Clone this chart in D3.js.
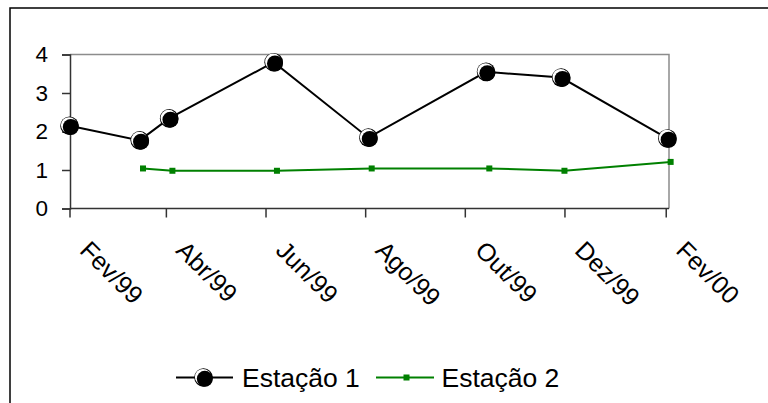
<!DOCTYPE html>
<html><head><meta charset="utf-8">
<script src="https://cdn.jsdelivr.net/npm/d3@7"></script>
<style>
html,body{margin:0;padding:0;background:#fff;}
svg{display:block;font-family:"Liberation Sans",Arial,sans-serif;}
</style></head>
<body>
<svg id="c" width="768" height="403"></svg>
<script>
// ---- data ----
const seriesNames = ["Estação 1", "Estação 2"];
const datesE1 = ["1999-02-01","1999-03-16","1999-04-03","1999-06-06","1999-08-03","1999-10-14","1999-11-29","2000-02-02"];
const valuesE1 = [2.15, 1.77, 2.34, 3.80, 1.84, 3.55, 3.40, 1.82];
const datesE2 = ["1999-03-18","1999-04-05","1999-06-08","1999-08-05","1999-10-16","1999-12-01","2000-02-04"];
const valuesE2 = [1.04, 0.98, 0.98, 1.04, 1.04, 0.98, 1.21];
const tickDates = ["1999-02-01","1999-04-01","1999-06-01","1999-08-01","1999-10-01","1999-12-01","2000-02-01"];
const tickLabels = ["Fev/99","Abr/99","Jun/99","Ago/99","Out/99","Dez/99","Fev/00"];
const yTicks = [0,1,2,3,4];

const parse = d3.utcParse("%Y-%m-%d");
const svg = d3.select("#c");

// outer chart frame (only top/left visible)
svg.append("rect").attr("x",10).attr("y",8).attr("width",800).attr("height",420)
  .attr("fill","#fff").attr("stroke","#000").attr("stroke-width",1.5);

const L=70, R=669, T=54.5, B=208.5;
const x = d3.scaleUtc().domain([parse("1999-02-01"), parse("2000-02-03")]).range([L-0.5, R]);
const y = d3.scaleLinear().domain([0,4]).range([B,T]);

// plot area border top/right in gray
svg.append("path").attr("d",`M${L},${T}H${R}V${B}`).attr("fill","none")
  .attr("stroke","#8c8c8c").attr("stroke-width",1.5);

// y axis
const yAxis = svg.append("g").attr("transform",`translate(${L},0)`)
  .call(d3.axisLeft(y).tickValues(yTicks).tickSize(8).tickPadding(14).tickFormat(d3.format("d")));
yAxis.select(".domain").attr("stroke","#333").attr("stroke-width",1.5);
yAxis.selectAll(".tick line").attr("stroke","#333").attr("stroke-width",1.5);
yAxis.selectAll("text").attr("font-size",22.5).attr("fill","#000")
  .attr("font-family","'Liberation Sans',Arial,sans-serif");

// x axis
const xAxis = svg.append("g").attr("transform",`translate(0,${B})`)
  .call(d3.axisBottom(x).tickValues(tickDates.map(parse)).tickSize(9)
    .tickFormat((d,i)=>tickLabels[i]));
xAxis.select(".domain").attr("stroke","#333").attr("stroke-width",1.5).attr("d",`M${L},0H${R}`);
xAxis.selectAll(".tick line").attr("stroke","#333").attr("stroke-width",1.5);
xAxis.selectAll("text")
  .attr("font-size",25).attr("fill","#000").attr("font-family","'Liberation Sans',Arial,sans-serif")
  .attr("text-anchor","start").attr("dy",null).attr("y",null)
  .attr("transform","rotate(45)").attr("x",36.5).attr("y",24.5);

// lines
const e1 = datesE1.map((d,i)=>({d:parse(d), v:valuesE1[i]}));
const e2 = datesE2.map((d,i)=>({d:parse(d), v:valuesE2[i]}));
const line = d3.line().x(p=>x(p.d)).y(p=>y(p.v));

svg.append("path").datum(e2).attr("d",line).attr("fill","none")
  .attr("stroke","#008000").attr("stroke-width",2);
svg.append("g").selectAll("rect").data(e2).join("rect")
  .attr("x",p=>x(p.d)-3).attr("y",p=>y(p.v)-3).attr("width",6).attr("height",6).attr("fill","#008000");

svg.append("path").datum(e1).attr("d",line).attr("fill","none")
  .attr("stroke","#000").attr("stroke-width",2);

function ball(g, cx, cy){
  g.append("circle").attr("cx",cx).attr("cy",cy).attr("r",9.3).attr("fill","#000");
  g.append("circle").attr("cx",cx-0.5).attr("cy",cy-0.5).attr("r",8.1).attr("fill","#fff");
  g.append("circle").attr("cx",cx+1.3).attr("cy",cy+1.3).attr("r",8).attr("fill","#000");
}
const mk = svg.append("g");
e1.forEach(p=>ball(mk, x(p.d), y(p.v)));

// legend
const leg = svg.append("g").attr("font-size",26.5).attr("font-family","'Liberation Sans',Arial,sans-serif");
const ly = 377.5;
leg.append("line").attr("x1",176).attr("x2",233).attr("y1",ly).attr("y2",ly).attr("stroke","#000").attr("stroke-width",2);
ball(leg, 203.5, ly);
leg.append("text").attr("x",242).attr("y",ly+9).text(seriesNames[0]);
leg.append("line").attr("x1",376).attr("x2",434).attr("y1",ly).attr("y2",ly).attr("stroke","#008000").attr("stroke-width",2);
leg.append("rect").attr("x",403.5).attr("y",ly-3).attr("width",6).attr("height",6).attr("fill","#008000");
leg.append("text").attr("x",441.5).attr("y",ly+9).text(seriesNames[1]);
</script>
</body></html>
